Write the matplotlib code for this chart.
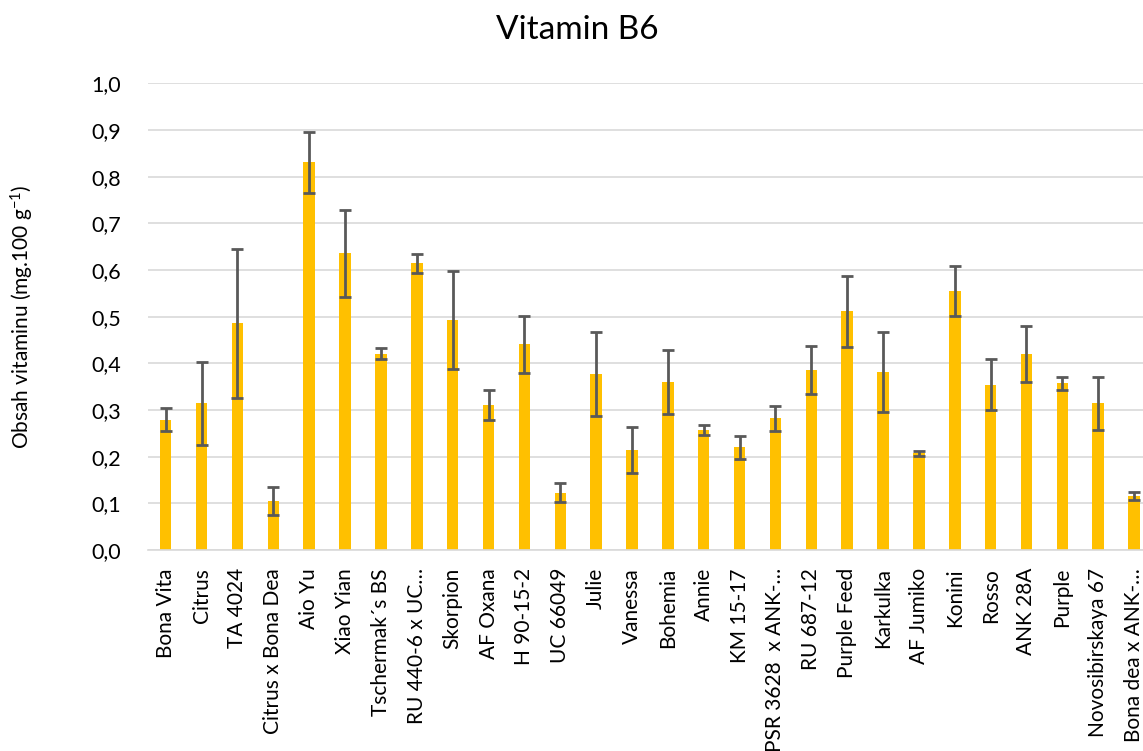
import matplotlib
matplotlib.use("Agg")
import matplotlib.pyplot as plt
import numpy as np

categories = ["Bona Vita", "Citrus", "TA 4024", "Citrus x Bona Dea", "Aio Yu", "Xiao Yian",
              "Tschermak´s BS", "RU 440-6 x UC…", "Skorpion", "AF Oxana", "H 90-15-2",
              "UC 66049", "Julie", "Vanessa", "Bohemia", "Annie", "KM 15-17",
              "PSR 3628  x ANK-…", "RU 687-12", "Purple Feed", "Karkulka", "AF Jumiko",
              "Konini", "Rosso", "ANK 28A", "Purple", "Novosibirskaya 67", "Bona dea x ANK-…"]
values = [0.279, 0.314, 0.486, 0.104, 0.831, 0.636, 0.421, 0.614, 0.493, 0.311, 0.441,
          0.123, 0.377, 0.214, 0.360, 0.257, 0.220, 0.282, 0.386, 0.512, 0.382, 0.207,
          0.555, 0.354, 0.420, 0.357, 0.314, 0.116]
errors = [0.025, 0.088, 0.160, 0.030, 0.065, 0.093, 0.011, 0.020, 0.105, 0.032, 0.061,
          0.020, 0.090, 0.049, 0.068, 0.010, 0.024, 0.026, 0.052, 0.076, 0.086, 0.005,
          0.053, 0.055, 0.061, 0.014, 0.056, 0.009]
yticks = [0.0, 0.1, 0.2, 0.3, 0.4, 0.5, 0.6, 0.7, 0.8, 0.9, 1.0]
ytick_labels = ["0,0", "0,1", "0,2", "0,3", "0,4", "0,5", "0,6", "0,7", "0,8", "0,9", "1,0"]

plt.rcParams['font.family'] = ['Lato', 'DejaVu Sans']
plt.rcParams['mathtext.fontset'] = 'custom'
plt.rcParams['mathtext.rm'] = 'Lato'
plt.rcParams['mathtext.it'] = 'Lato:italic'
plt.rcParams['mathtext.bf'] = 'Lato:bold'

fig = plt.figure(figsize=(11.43, 7.51), dpi=100)
ax = fig.add_axes([0.1293, 0.2676, 0.8786, 0.6214])

x = np.arange(len(categories))
ax.bar(x, values, width=0.32, color="#FFC000", zorder=2)
ax.errorbar(x, values, yerr=errors, fmt="none", ecolor="#595959", elinewidth=2,
            capsize=4.5, capthick=2, zorder=3)

ax.set_xlim(-0.5, len(categories) - 0.5)
ax.set_ylim(0, 1.0)
ax.set_yticks(yticks)
ax.set_yticklabels(ytick_labels, fontsize=15.5)
ax.set_xticks(x)
ax.set_xticklabels(categories, rotation=90, fontsize=15, va="top", ha="center")
ax.tick_params(axis="both", length=0)
ax.tick_params(axis="y", pad=19)
ax.tick_params(axis="x", pad=13)

ax.yaxis.grid(True, color="#d9d9d9", linewidth=1.2, zorder=0)
ax.set_axisbelow(True)
for s in ["top", "right", "left"]:
    ax.spines[s].set_visible(False)
ax.spines["bottom"].set_color("#d9d9d9")
ax.spines["bottom"].set_linewidth(1.2)

ax.set_ylabel("Obsah vitaminu (mg.100 g$^{-1}$)", fontsize=15)
ax.yaxis.set_label_coords(-0.111, 0.5)
fig.text(0.5055, 0.960, "Vitamin B6", ha="center", va="center", fontsize=24)

fig.savefig("out.png", dpi=100)
